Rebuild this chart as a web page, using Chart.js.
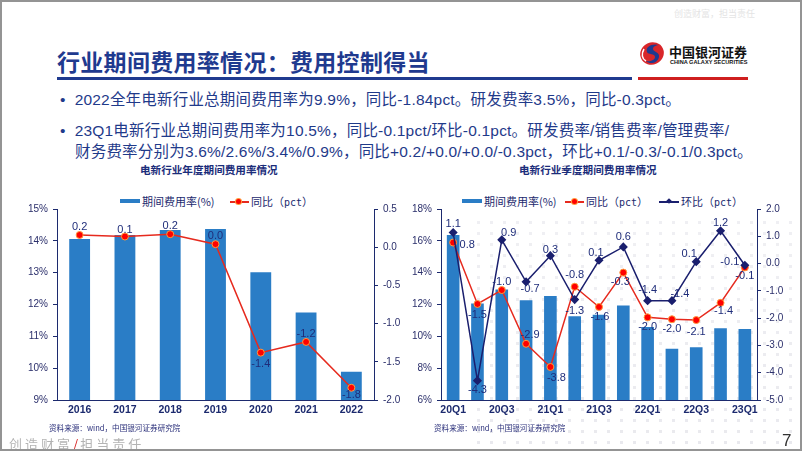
<!DOCTYPE html>
<html>
<head>
<meta charset="utf-8">
<script src="https://cdn.jsdelivr.net/npm/chart.js@4.4.1/dist/chart.umd.min.js"></script>
<style>
  body { margin: 0; background: #fff; }
  #page { position: relative; width: 802px; height: 451px; box-sizing: border-box; border: 2px solid #949494; overflow: hidden; font-family: "Liberation Sans", "Noto Sans CJK SC", sans-serif; }
  .abs { position: absolute; white-space: nowrap; }
  .title { left: 55px; top: 42px; font: bold 23px "Noto Sans CJK SC"; color: #1f3a8f; letter-spacing: 0.3px; }
  .bullet { left: 58px; font-size: 15.5px; color: #1f3a8a; letter-spacing: 0.2px; }
  .ctitle { font: bold 10.6px "Noto Sans CJK SC"; color: #1b2d7a; }
  .src { font: 7.6px "Noto Sans CJK SC"; color: #2a2f7a; }
  .leg { font: 11px "Noto Sans CJK SC"; color: #1c2a6e; line-height: 14px; }
  .box { position: absolute; }
  #dots { position: absolute; left: 470px; top: 215px; width: 330px; height: 236px;
    background-image: radial-gradient(circle, #e9e9ee 1.6px, transparent 2px); background-size: 13px 11px;
    -webkit-mask-image: linear-gradient(to bottom, rgba(0,0,0,0.7), rgba(0,0,0,1)); }
</style>
</head>
<body>
<div id="page">
  <div id="dots"></div>
  <div class="abs" style="left:672px;top:5px;font:9px 'Noto Sans CJK SC';color:#e4e4e4;">创造财富，担当责任</div>
  <div class="abs title">行业期间费用率情况：费用控制得当</div>
  <div class="box" style="left:55px;top:75px;width:575px;height:3px;background:#1f3a8f;"></div>
  <div class="box" style="left:636px;top:75px;width:110px;height:3px;background:#cf1f1f;"></div>
  <svg class="box" style="left:636px;top:39px;" width="28" height="25" viewBox="0 0 28 25">
    <ellipse cx="14" cy="12.5" rx="12" ry="11" fill="#d9262a" transform="rotate(-25 14 12.5)"/>
    <path d="M21 4 C14 2 7 6 9 11 C10 14 17 12 17 16 C17 19 12 21 8 20 C12 24 20 22 21 16 C22 11 15 11 15 8 C15 5 19 4 21 4 Z" fill="#1f3a8f"/>
    <path d="M8 20 C4 18 3 13 6 8" stroke="#fff" stroke-width="1.5" fill="none"/>
  </svg>
  <div class="abs" style="left:667px;top:40px;font:bold 13px 'Noto Sans CJK SC';color:#111;">中国银河证券</div>
  <div class="abs" style="left:668px;top:57px;font:bold 5.6px 'Liberation Sans';color:#111;">CHINA GALAXY SECURITIES</div>

  <div class="abs bullet" style="top:85px;">•&nbsp; 2022全年电新行业总期间费用率为9.9%，同比-1.84pct。研发费率3.5%，同比-0.3pct。</div>
  <div class="abs bullet" style="top:116px;">•&nbsp; 23Q1电新行业总期间费用率为10.5%，同比-0.1pct/环比-0.1pct。研发费率/销售费率/管理费率/</div>
  <div class="abs bullet" style="top:137px;left:73px;">财务费率分别为3.6%/2.6%/3.4%/0.9%，同比+0.2/+0.0/+0.0/-0.3pct，环比+0.1/-0.3/-0.1/0.3pct。</div>

  <div class="abs ctitle" style="left:138px;top:160px;">电新行业年度期间费用率情况</div>
  <div class="abs ctitle" style="left:517px;top:160px;">电新行业季度期间费用率情况</div>

  <!-- legends -->
  <div class="box" style="left:118px;top:197px;width:20px;height:4px;background:#2a7dc6;"></div>
  <div class="abs leg" style="left:140px;top:192px;">期间费用率(%)</div>
  <div class="box" style="left:228px;top:199px;width:19px;height:1.5px;background:#e62a1e;"></div>
  <div class="box" style="left:234px;top:197px;width:5px;height:5px;border-radius:50%;background:#f00;box-shadow:0 0 0 1px #ff9a3c;"></div>
  <div class="abs leg" style="left:249px;top:192px;">同比（<span style="font-family:'DejaVu Sans Mono';font-size:10px;">pct</span>）</div>

  <div class="box" style="left:460px;top:197px;width:20px;height:4px;background:#2a7dc6;"></div>
  <div class="abs leg" style="left:482px;top:192px;">期间费用率(%)</div>
  <div class="box" style="left:563px;top:199px;width:19px;height:1.5px;background:#e62a1e;"></div>
  <div class="box" style="left:570px;top:197px;width:5px;height:5px;border-radius:50%;background:#f00;box-shadow:0 0 0 1px #ff9a3c;"></div>
  <div class="abs leg" style="left:584px;top:192px;">同比（<span style="font-family:'DejaVu Sans Mono';font-size:10px;">pct</span>）</div>
  <div class="box" style="left:657px;top:199px;width:20px;height:1.5px;background:#1a1f6e;"></div>
  <div class="box" style="left:665px;top:197px;width:4px;height:4px;transform:rotate(45deg);background:#1a1f6e;"></div>
  <div class="abs leg" style="left:679px;top:192px;">环比（<span style="font-family:'DejaVu Sans Mono';font-size:10px;">pct</span>）</div>

  <div class="box" style="left:0px;top:190px;width:400px;height:232px;"><canvas id="yearChart"></canvas></div>
  <div class="box" style="left:400px;top:190px;width:400px;height:232px;"><canvas id="quarterChart"></canvas></div>

  <div class="abs src" style="left:47px;top:420px;">资料来源：wind，中国银河证券研究院</div>
  <div class="abs src" style="left:432px;top:420px;">资料来源：wind，中国银河证券研究院</div>

  <div class="abs" style="left:7px;top:432px;font:13px 'Noto Sans CJK SC';color:#b4b4b4;letter-spacing:3px;">创造财富<span style="color:#d62020;letter-spacing:2px;">/</span>担当责任</div>
  <div class="abs" style="left:780px;top:429px;font:17px 'Liberation Sans';color:#333;">7</div>
</div>

<script>
// annual chart data
var years = ["2016", "2017", "2018", "2019", "2020", "2021", "2022"];
var yearRate = [14.06, 14.18, 14.34, 14.37, 13.01, 11.75, 9.89];
var yearYoy = [0.16, 0.14, 0.17, 0.04, -1.38, -1.24, -1.84];

// quarterly chart data
var quarters = ["20Q1", "20Q2", "20Q3", "20Q4", "21Q1", "21Q2", "21Q3", "21Q4", "22Q1", "22Q2", "22Q3", "22Q4", "23Q1"];
var quarterRate = [16.36, 12.06, 12.95, 12.27, 12.53, 11.26, 11.35, 11.94, 10.59, 9.22, 9.31, 10.51, 10.46];
var quarterYoy = [0.77, -1.48, -0.97, -2.94, -3.79, -0.85, -1.59, -0.33, -1.97, -2.04, -2.07, -1.44, -0.14];
var quarterQoq = [1.14, -4.29, 0.87, -0.67, 0.29, -1.32, 0.12, 0.61, -1.36, -1.36, 0.07, 1.2, -0.06];

// where the value labels sit relative to each point [dx, dy]
var yearYoyPos = [[0,-8],[0,-7],[0,-8],[0,-8],[0,11],[0,-8],[0,7]];
var quarterYoyPos = [[14,2],[0,11],[0,-8],[4,-9],[6,11],[0,-12],[1,10],[-3,9],[0,10],[0,10],[0,12],[3,8],[0,9]];
var quarterQoqPos = [[0,-8],[0,9],[7,-7],[4,7],[0,-6],[0,11],[-3,-7],[0,-10],[0,-11],[8,-7],[-7,-8],[0,-8],[-15,-3]];

var navy = "#1c2a6e";
var barBlue = "#2a7dc6";
var red = "#e62a1e";
var qoqColor = "#1a1f6e";

var valueLabels = {
    id: "valueLabels",
    afterDatasetsDraw: function(chart) {
        var ctx = chart.ctx;
        ctx.save();
        ctx.font = "11px 'Liberation Sans'";
        ctx.fillStyle = "#1f2d7a";
        ctx.textAlign = "center";
        ctx.textBaseline = "middle";
        chart.data.datasets.forEach(function(ds, i) {
            if (!ds.labelPos) return;
            var meta = chart.getDatasetMeta(i);
            meta.data.forEach(function(pt, j) {
                var off = ds.labelPos[j];
                ctx.fillText(ds.data[j].toFixed(1), pt.x + off[0], pt.y + off[1]);
            });
        });
        ctx.restore();
    }
};

function yAxis(pos, min, max, step, width, fmt) {
    return {
        position: pos,
        min: min,
        max: max,
        afterFit: function(scale) { scale.width = width; },
        ticks: { stepSize: step, color: "#2b2f6b", font: { size: 10, family: "Liberation Sans" }, padding: 5, callback: fmt },
        grid: { drawOnChartArea: false, drawTicks: true, tickLength: 4, color: navy },
        border: { color: navy, width: 1 }
    };
}

function xAxis(skip) {
    return {
        offset: true,
        afterFit: function(scale) { scale.height = 24; },
        ticks: {
            autoSkip: false, maxRotation: 0, padding: 4,
            color: navy, font: { size: 10.5, weight: "bold", family: "Liberation Sans" },
            callback: function(v, i) { return (skip && i % 2 == 1) ? "" : this.getLabelForValue(v); }
        },
        grid: { drawOnChartArea: false, drawTicks: false, color: navy },
        border: { color: navy, width: 1 }
    };
}

Chart.defaults.animation = false;

var yearChart = new Chart(document.getElementById("yearChart"), {
    type: "bar",
    data: {
        labels: years,
        datasets: [
            {
                type: "line", data: yearYoy, yAxisID: "y1", order: 1,
                borderColor: red, borderWidth: 1.5, pointRadius: 3.5, pointBackgroundColor: "#ff0000",
                pointBorderColor: "#ff9a3c", pointBorderWidth: 1, labelPos: yearYoyPos
            },
            {
                data: yearRate, yAxisID: "y", order: 2, backgroundColor: barBlue,
                categoryPercentage: 1, barPercentage: 0.46
            }
        ]
    },
    options: {
        responsive: true, maintainAspectRatio: false,
        layout: { padding: { top: 17, left: 0, right: 0, bottom: 0 } },
        plugins: { legend: { display: false }, tooltip: { enabled: false } },
        scales: {
            x: xAxis(false),
            y: yAxis("left", 9, 15, 1, 55, function(v) { return v + "%"; }),
            y1: yAxis("right", -2, 0.5, 0.5, 28, function(v) { return v.toFixed(1); })
        }
    },
    plugins: [valueLabels]
});

var quarterChart = new Chart(document.getElementById("quarterChart"), {
    type: "bar",
    data: {
        labels: quarters,
        datasets: [
            {
                type: "line", data: quarterQoq, yAxisID: "y1", order: 1,
                borderColor: qoqColor, borderWidth: 1.5, pointRadius: 3.5, pointStyle: "rectRot",
                pointBackgroundColor: qoqColor, pointBorderColor: qoqColor, labelPos: quarterQoqPos
            },
            {
                type: "line", data: quarterYoy, yAxisID: "y1", order: 2,
                borderColor: red, borderWidth: 1.5, pointRadius: 3.5, pointBackgroundColor: "#ff0000",
                pointBorderColor: "#ff9a3c", pointBorderWidth: 1, labelPos: quarterYoyPos
            },
            {
                data: quarterRate, yAxisID: "y", order: 3, backgroundColor: barBlue,
                categoryPercentage: 1, barPercentage: 0.52
            }
        ]
    },
    options: {
        responsive: true, maintainAspectRatio: false,
        layout: { padding: { top: 17, left: 0, right: 0, bottom: 0 } },
        plugins: { legend: { display: false }, tooltip: { enabled: false } },
        scales: {
            x: xAxis(true),
            y: yAxis("left", 6, 18, 2, 39, function(v) { return v + "%"; }),
            y1: yAxis("right", -5, 2, 1, 45, function(v) { return v.toFixed(1); })
        }
    },
    plugins: [valueLabels]
});
</script>
</body>
</html>
